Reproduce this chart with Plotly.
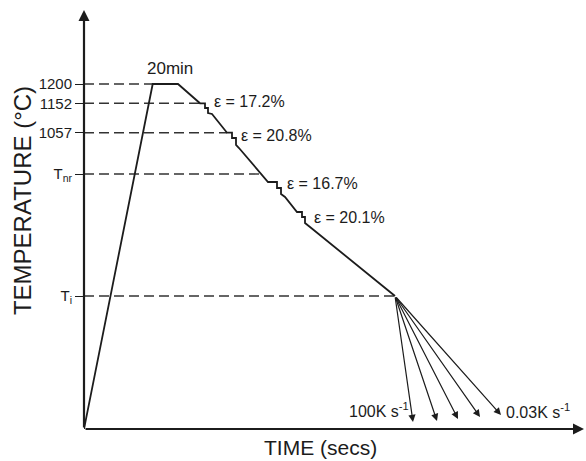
import plotly.graph_objects as go

# ---- data (schematic units: time on x, temperature on y) ----
path_time = [0, 68.7, 94, 116, 121, 121, 124, 124, 128, 143, 148, 148, 152, 152, 155,
             184, 193, 193, 197, 197, 201, 213, 218, 218, 221, 221, 226, 311]
path_temp = [0, 345, 345, 325.7, 325.7, 321, 321, 316, 315, 296.3, 296.3, 291, 291, 284, 281,
             247, 247, 241, 241, 235, 232, 217, 217, 212, 212, 206, 202, 133]

level_names = ["1200", "1152", "1057", "T<sub>nr</sub>", "T<sub>i</sub>"]
level_temp = [345, 325.7, 296.3, 255, 133]
level_end_time = [68.7, 116, 143, 177.4, 311]

strain_labels = ["ε = 17.2%", "ε = 20.8%", "ε = 16.7%", "ε = 20.1%"]
strain_time = [128, 155, 201, 228]
strain_temp = [327.3, 294, 246, 212]

cool_start = (311, 133)
cool_end_time = [329, 353, 374, 396, 417]
cool_end_temp = [7, 8, 10, 12, 14]
cool_rate_labels = ["100K s<sup>-1</sup>", "0.03K s<sup>-1</sup>"]

FONT = "Liberation Sans, Arial, sans-serif"
INK = "#1c1c1c"

fig = go.Figure()

# dashed reference levels
for t, te in zip(level_temp, level_end_time):
    fig.add_trace(go.Scatter(x=[0, te], y=[t, t], mode="lines",
                             line=dict(color="#333", width=1.4, dash="10px,5px"),
                             hoverinfo="skip", showlegend=False))

# thermal path
fig.add_trace(go.Scatter(x=path_time, y=path_temp, mode="lines",
                         line=dict(color=INK, width=1.8), showlegend=False))

annotations = []
# cooling arrows
for xe, ye in zip(cool_end_time, cool_end_temp):
    annotations.append(dict(x=xe, y=ye, ax=cool_start[0], ay=cool_start[1],
                            xref="x", yref="y", axref="x", ayref="y",
                            showarrow=True, arrowhead=2, arrowsize=1.2, arrowwidth=1.2,
                            arrowcolor=INK, text=""))
# axes arrows
annotations.append(dict(x=500, y=0, ax=0, ay=0, xref="x", yref="y", axref="x", ayref="y",
                        showarrow=True, arrowhead=2, arrowsize=1, arrowwidth=2.2,
                        arrowcolor=INK, text=""))
annotations.append(dict(x=0, y=419, ax=0, ay=0, xref="x", yref="y", axref="x", ayref="y",
                        showarrow=True, arrowhead=2, arrowsize=1, arrowwidth=2.2,
                        arrowcolor=INK, text=""))

# labels
annotations.append(dict(x=86, y=361, xref="x", yref="y", text="20min", showarrow=False,
                        font=dict(size=17, color=INK, family=FONT)))
for lab, xt, yt in zip(strain_labels, strain_time, strain_temp):
    annotations.append(dict(x=xt, y=yt, xref="x", yref="y", text=lab, showarrow=False,
                            xanchor="left", font=dict(size=16, color=INK, family=FONT)))
annotations.append(dict(x=327, y=19, xref="x", yref="y", text=cool_rate_labels[0],
                        showarrow=False, xanchor="right",
                        font=dict(size=16, color=INK, family=FONT)))
annotations.append(dict(x=420, y=18, xref="x", yref="y", text=cool_rate_labels[1],
                        showarrow=False, xanchor="left",
                        font=dict(size=16, color=INK, family=FONT)))
# axis titles (paper coordinates so they can sit outside the plot area)
annotations.append(dict(x=0.472, y=-0.043, xref="paper", yref="paper", text="TIME (secs)",
                        xanchor="center", yanchor="middle",
                        showarrow=False, font=dict(size=21, color=INK, family=FONT)))
annotations.append(dict(x=-0.124, y=0.544, xref="paper", yref="paper", text="TEMPERATURE (°C)",
                        xanchor="center", yanchor="middle",
                        showarrow=False, textangle=-90,
                        font=dict(size=24, color=INK, family=FONT)))

fig.update_layout(
    width=586, height=461,
    margin=dict(l=84, r=2, t=10, b=32),
    paper_bgcolor="white", plot_bgcolor="white",
    annotations=annotations,
    xaxis=dict(range=[0, 500], showgrid=False, zeroline=False, showline=False,
               showticklabels=False, ticks=""),
    yaxis=dict(range=[0, 419], showgrid=False, zeroline=False, showline=False,
               tickvals=level_temp, ticktext=level_names, ticks="outside",
               ticklen=8, tickwidth=1.4, tickcolor=INK,
               tickfont=dict(size=15, color=INK, family=FONT)),
    showlegend=False,
)

fig.write_html("out.html", config={"displayModeBar": False},
               post_script="document.body.style.margin='0';")
